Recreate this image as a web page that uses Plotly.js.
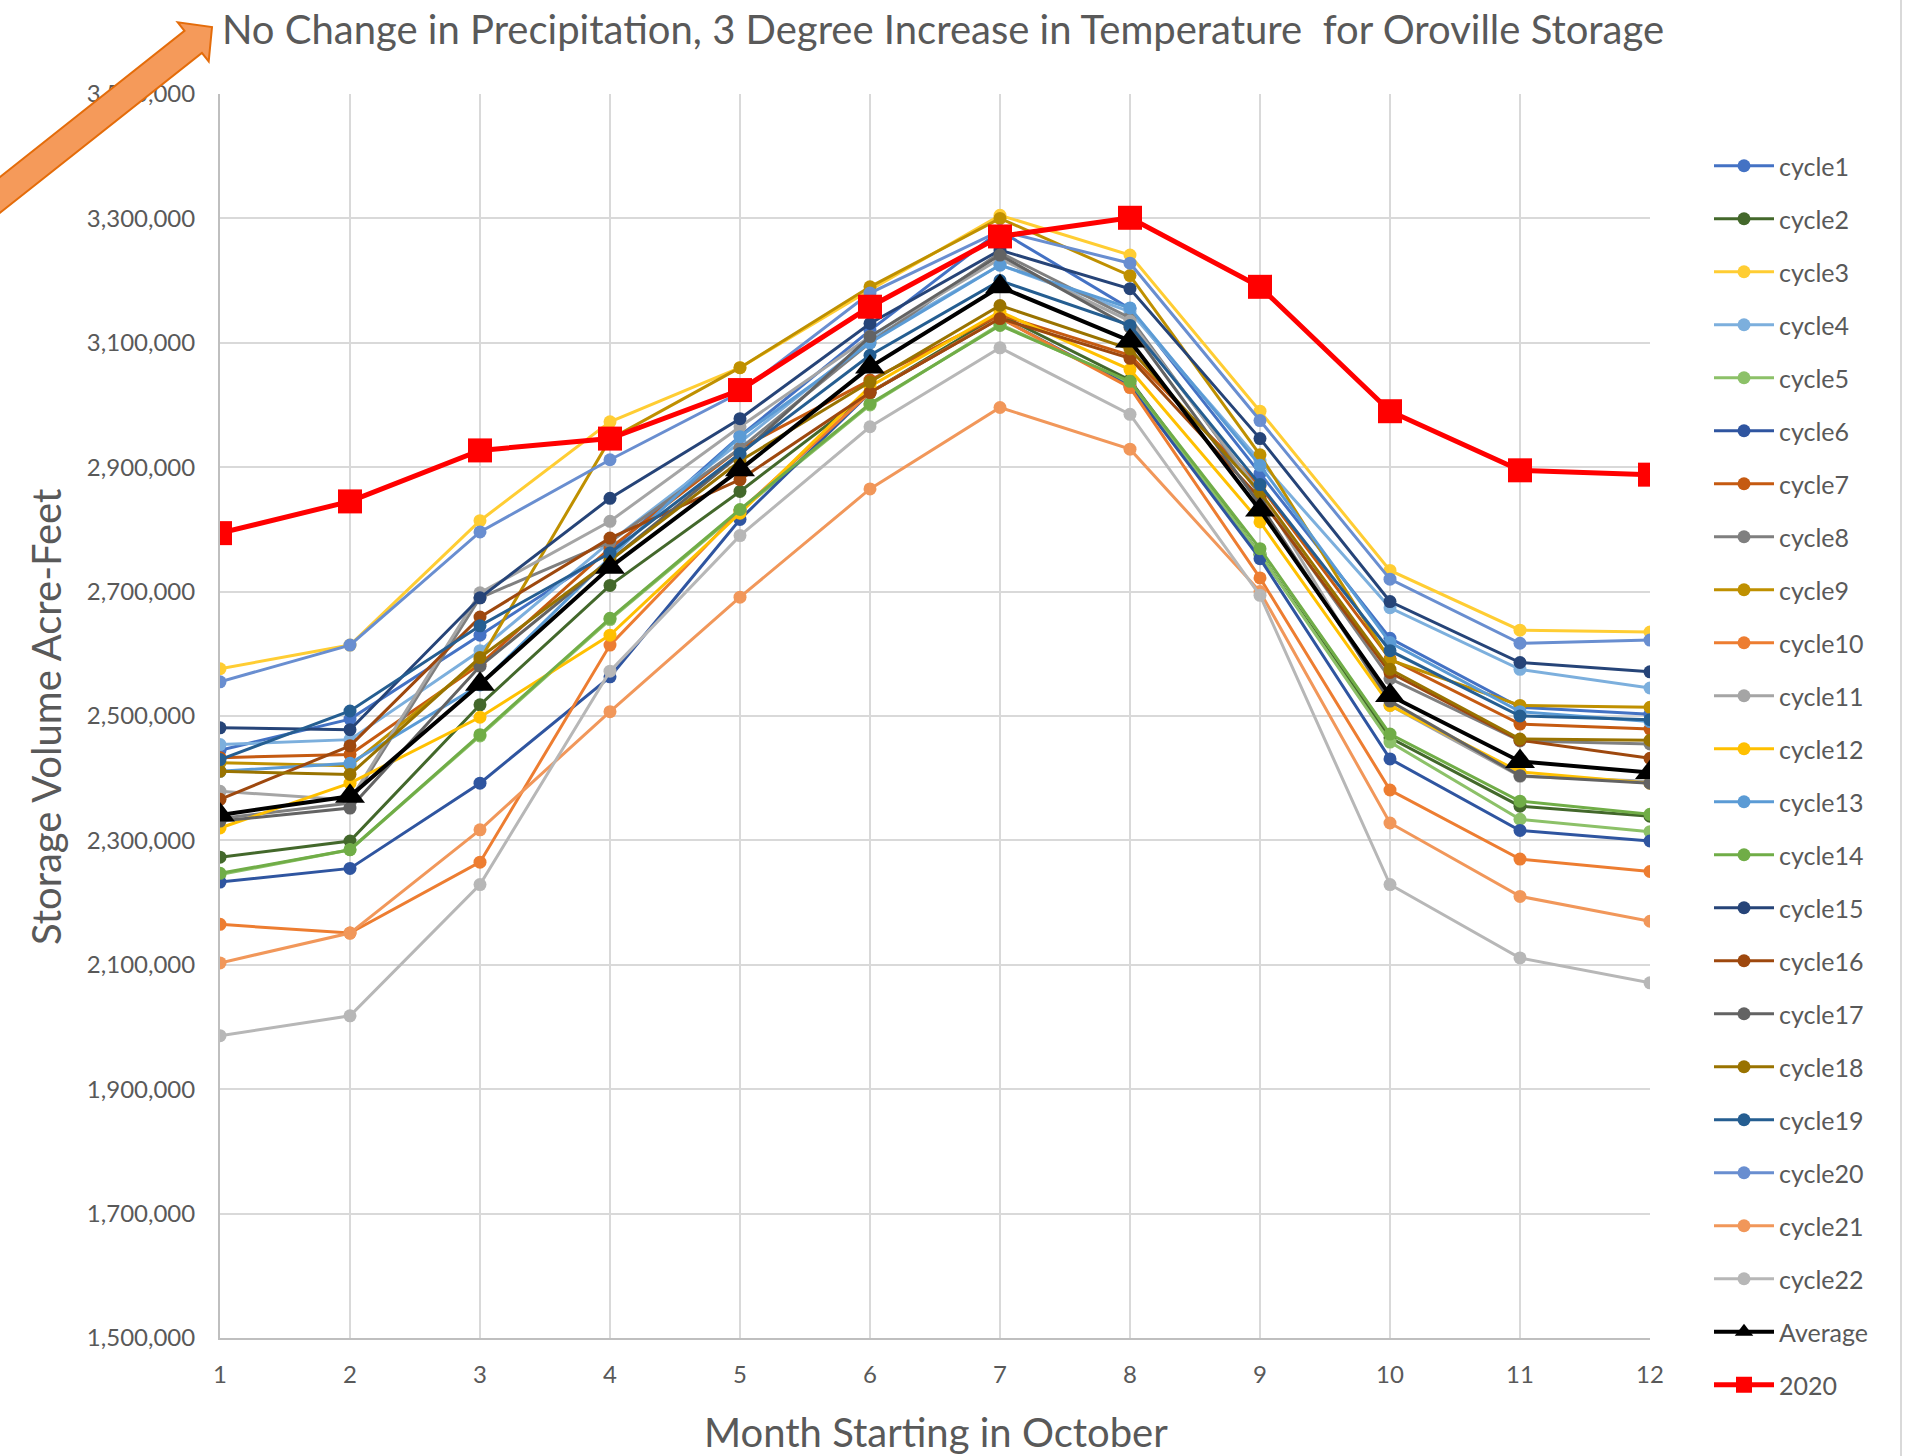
<!DOCTYPE html>
<html>
<head>
<meta charset="utf-8">
<script src="https://cdn.plot.ly/plotly-3.0.1.min.js"></script>
<style>
html, body { margin: 0; padding: 0; background: #ffffff; }
#chart { width: 1906px; height: 1456px; }
</style>
</head>
<body>
<div id="chart"></div>
<script>
// ---------------- DATA ----------------
const months = [1, 2, 3, 4, 5, 6, 7, 8, 9, 10, 11, 12];
const monthLabels = ['1', '2', '3', '4', '5', '6', '7', '8', '9', '10', '11', '12'];

const cycle1  = [2445000, 2495000, 2630000, 2765000, 2950000, 3120000, 3280000, 3155000, 2890000, 2625000, 2514000, 2503000];
const cycle2  = [2273000, 2299000, 2518000, 2710000, 2861000, 3020000, 3145000, 3040000, 2760000, 2465000, 2355000, 2339000];
const cycle3  = [2576000, 2614000, 2814000, 2973000, 3060000, 3185000, 3305000, 3241000, 2990000, 2734000, 2638000, 2635000];
const cycle4  = [2454000, 2462000, 2605000, 2780000, 2940000, 3105000, 3225000, 3150000, 2910000, 2674000, 2575000, 2545000];
const cycle5  = [2245000, 2285000, 2468000, 2655000, 2830000, 3000000, 3130000, 3035000, 2760000, 2458000, 2334000, 2314000];
const cycle6  = [2233000, 2255000, 2392000, 2563000, 2816000, 3020000, 3140000, 3030000, 2753000, 2431000, 2316000, 2299000];
const cycle7  = [2433000, 2438000, 2583000, 2770000, 2930000, 3040000, 3145000, 3080000, 2870000, 2592000, 2487000, 2479000];
const cycle8  = [2335000, 2360000, 2690000, 2780000, 2930000, 3100000, 3245000, 3140000, 2855000, 2560000, 2460000, 2455000];
const cycle9  = [2425000, 2420000, 2590000, 2945000, 3060000, 3190000, 3300000, 3208000, 2920000, 2590000, 2517000, 2514000];
const cycle10 = [2165000, 2151000, 2265000, 2614000, 2830000, 3020000, 3140000, 3028000, 2722000, 2381000, 2270000, 2250000];
const cycle11 = [2379000, 2365000, 2698000, 2813000, 2965000, 3110000, 3235000, 3135000, 2860000, 2517000, 2403000, 2395000];
const cycle12 = [2320000, 2392000, 2498000, 2630000, 2826000, 3030000, 3150000, 3057000, 2812000, 2517000, 2410000, 2392000];
const cycle13 = [2411000, 2424000, 2550000, 2755000, 2949000, 3100000, 3225000, 3156000, 2903000, 2618000, 2507000, 2491000];
const cycle14 = [2247000, 2285000, 2470000, 2657000, 2832000, 3002000, 3128000, 3038000, 2769000, 2471000, 2363000, 2342000];
const cycle15 = [2481000, 2478000, 2690000, 2850000, 2978000, 3131000, 3249000, 3187000, 2946000, 2684000, 2586000, 2571000];
const cycle16 = [2366000, 2452000, 2659000, 2786000, 2880000, 3020000, 3139000, 3075000, 2850000, 2570000, 2461000, 2432000];
const cycle17 = [2331000, 2352000, 2580000, 2750000, 2920000, 3110000, 3241000, 3125000, 2840000, 2524000, 2404000, 2392000];
const cycle18 = [2411000, 2406000, 2594000, 2750000, 2910000, 3037000, 3160000, 3090000, 2860000, 2575000, 2463000, 2461000];
const cycle19 = [2430000, 2508000, 2645000, 2762000, 2922000, 3080000, 3200000, 3128000, 2872000, 2605000, 2500000, 2494000];
const cycle20 = [2555000, 2614000, 2796000, 2912000, 3020000, 3180000, 3280000, 3228000, 2975000, 2720000, 2617000, 2622000];
const cycle21 = [2103000, 2151000, 2317000, 2507000, 2691000, 2865000, 2996000, 2929000, 2700000, 2328000, 2210000, 2170000];
const cycle22 = [1986000, 2018000, 2229000, 2572000, 2790000, 2965000, 3092000, 2985000, 2694000, 2229000, 2111000, 2071000];
const average = [2341000, 2371000, 2551000, 2739000, 2896000, 3061000, 3190000, 3103000, 2831000, 2533000, 2427000, 2409000];
const y2020   = [2794000, 2845000, 2927000, 2946000, 3024000, 3158000, 3271000, 3301000, 3190000, 2990000, 2895000, 2888000];

const cycleNames = ['cycle1','cycle2','cycle3','cycle4','cycle5','cycle6','cycle7','cycle8','cycle9','cycle10','cycle11',
                    'cycle12','cycle13','cycle14','cycle15','cycle16','cycle17','cycle18','cycle19','cycle20','cycle21','cycle22'];
const cycleValues = [cycle1, cycle2, cycle3, cycle4, cycle5, cycle6, cycle7, cycle8, cycle9, cycle10, cycle11,
                     cycle12, cycle13, cycle14, cycle15, cycle16, cycle17, cycle18, cycle19, cycle20, cycle21, cycle22];

// ---------------- STYLE ----------------
const cycleColors = ['#4472c4','#43682b','#ffcd33','#7cafdd','#8cc168','#2f55a0','#c55a11','#7f7f7f','#bf9000','#ed7d31','#a5a5a5',
                     '#ffc000','#5b9bd5','#70ad47','#264478','#9e480e','#636363','#997300','#255e91','#698ed0','#f1975a','#b7b7b7'];
const textColor = '#595959';
const fontFamily = 'Lato, "Open Sans", sans-serif';

const W = 1906, H = 1456;
const L = 220, R = 1650, T = 94, B = 1338;
const px2x = p => (p - L) / (R - L);
const py2y = p => (B - p) / (B - T);

const traces = [];
cycleNames.forEach((name, i) => {
  traces.push({
    type: 'scatter', mode: 'lines+markers', name: name, legendgroup: name,
    x: months, y: cycleValues[i],
    line: { color: cycleColors[i], width: 3 },
    marker: { symbol: 'circle', size: 13, color: cycleColors[i] }
  });
});
traces.push({
  type: 'scatter', mode: 'lines+markers', name: 'Average', legendgroup: 'Average',
  x: months, y: average,
  line: { color: '#000000', width: 4 },
  marker: { symbol: 'triangle-up', size: 26, color: '#000000' }
});
traces.push({
  type: 'scatter', mode: 'lines+markers', name: '2020', legendgroup: '2020',
  x: months, y: y2020,
  line: { color: '#ff0000', width: 5 },
  marker: { symbol: 'square', size: 24, color: '#ff0000' }
});

// Decorative block arrow (pixel outline converted to paper coords)
const arrowPts = [[-38.0, 242.9], [201.9, 52.9], [208.7, 61.5], [212, 27], [177.7, 22.3], [184.5, 30.9], [-55.4, 220.9]];
const arrowPath = 'M' + arrowPts.map(p => px2x(p[0]).toFixed(5) + ',' + py2y(p[1]).toFixed(5)).join(' L') + ' Z';

const layout = {
  width: W, height: H,
  paper_bgcolor: '#ffffff', plot_bgcolor: '#ffffff',
  margin: { l: L, r: W - R, t: T, b: H - B, pad: 0 },
  font: { family: fontFamily, color: textColor },
  title: {
    text: 'No Change in Precipitation, 3 Degree Increase in Temperature&nbsp; for Oroville Storage',
    x: 943 / W, xref: 'container', xanchor: 'center',
    y: 1 - 30 / H, yref: 'container', yanchor: 'middle',
    font: { family: fontFamily, size: 40, color: textColor }
  },
  xaxis: {
    range: [1, 12], tickmode: 'array', tickvals: months, ticktext: monthLabels,
    showgrid: true, gridcolor: '#d9d9d9', gridwidth: 2,
    showline: true, linecolor: '#bfbfbf', linewidth: 2, zeroline: false,
    ticks: '', ticklabelstandoff: 14,
    tickfont: { family: fontFamily, size: 24, color: textColor },
    fixedrange: true
  },
  yaxis: {
    range: [1500000, 3500000], tick0: 1500000, dtick: 200000, tickformat: ',d',
    showgrid: true, gridcolor: '#d9d9d9', gridwidth: 2,
    showline: true, linecolor: '#bfbfbf', linewidth: 2, zeroline: false,
    ticks: '', ticklabelstandoff: 18,
    tickfont: { family: fontFamily, size: 24, color: textColor },
    fixedrange: true
  },
  annotations: [
    { text: 'Month Starting in October', xref: 'paper', yref: 'paper', x: px2x(936), y: py2y(1432),
      xanchor: 'center', yanchor: 'middle', showarrow: false,
      font: { family: fontFamily, size: 40, color: textColor } },
    { text: 'Storage Volume Acre-Feet', xref: 'paper', yref: 'paper', x: px2x(46), y: py2y(717),
      xanchor: 'center', yanchor: 'middle', showarrow: false, textangle: -90,
      font: { family: fontFamily, size: 40, color: textColor } }
  ],
  shapes: [
    { type: 'path', xref: 'paper', yref: 'paper', path: arrowPath,
      fillcolor: '#f59a5a', line: { color: '#e46c0a', width: 2 }, layer: 'above' },
    { type: 'line', xref: 'paper', yref: 'paper', x0: px2x(1901), x1: px2x(1901), y0: py2y(0), y1: py2y(H),
      line: { color: '#d9d9d9', width: 2 } }
  ],
  showlegend: true,
  legend: {
    x: px2x(1709), xanchor: 'left', y: py2y(143), yanchor: 'top',
    traceorder: 'grouped', tracegroupgap: 17.5, itemwidth: 60,
    maxheight: 1400,
    font: { family: fontFamily, size: 25, color: textColor },
    bgcolor: 'rgba(0,0,0,0)', borderwidth: 0
  },
  hovermode: false
};

Plotly.newPlot('chart', traces, layout, { displayModeBar: false, staticPlot: true });
</script>
</body>
</html>
